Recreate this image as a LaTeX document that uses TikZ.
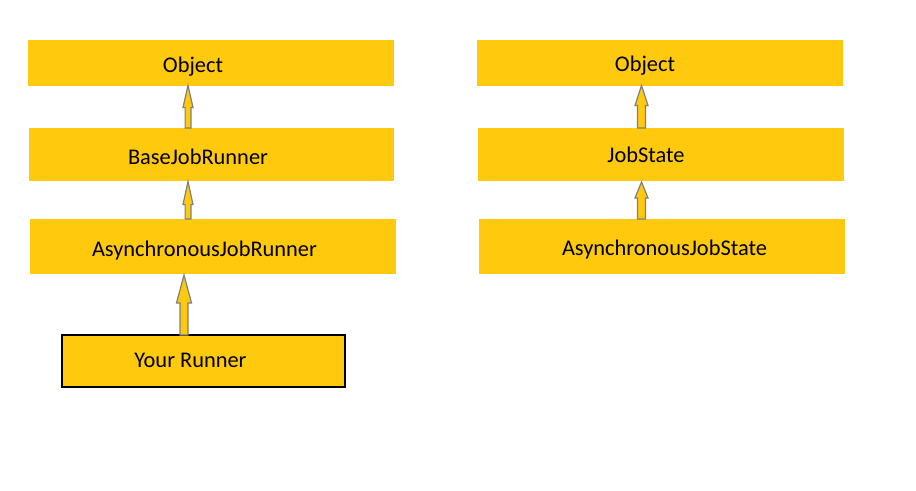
\documentclass[tikz,border=0pt]{standalone}
\usepackage{fontspec}
\setmainfont{Carlito}
\usetikzlibrary{calc}
\definecolor{boxyellow}{RGB}{255,201,14}
\definecolor{arrowgray}{RGB}{127,127,127}
% #1 base coord, #2 tip coord, #3 shaft half width, #4 head half width, #5 head length
\newcommand{\myblockarr}[5]{%
  \draw[blockarrow] ($(#1)+(-#3,0)$) -- ($(#2)+(-#3,#5)$) -- ($(#2)+(-#4,#5)$) -- (#2)
    -- ($(#2)+(#4,#5)$) -- ($(#2)+(#3,#5)$) -- ($(#1)+(#3,0)$) -- cycle;}
\begin{document}
\begin{tikzpicture}[x=0.75pt,y=-0.75pt,
  ybox/.style={fill=boxyellow, draw=none, inner sep=0pt, outer sep=0pt},
  lbl/.style={anchor=base, inner sep=0pt, font=\fontsize{16.8}{20}\selectfont},
  blockarrow/.style={fill=boxyellow, draw=arrowgray, line width=0.9pt, line join=miter}]
\useasboundingbox (0,0) rectangle (916,490);
% left column
\path[ybox] (28,40) rectangle (394,86) coordinate[pos=.5] (lobj);
\path[ybox] (29,128) rectangle (394,181) coordinate[pos=.5] (lbase);
\path[ybox] (30,219) rectangle (396,274) coordinate[pos=.5] (lasync);
\draw[fill=boxyellow, line width=1.6pt] (62,335) rectangle (345,387) coordinate[pos=.5] (your);
\node[lbl] (tlobj) at (193,72) {Object};
\node[lbl] (tlbase) at (198,164) {BaseJobRunner};
\node[lbl] (tlasync) at (204.5,256) {AsynchronousJobRunner};
\node[lbl] (tyour) at (190.5,367) {Your Runner};
% right column
\path[ybox] (477,40) rectangle (843,86) coordinate[pos=.5] (robj);
\path[ybox] (478,128) rectangle (844,181) coordinate[pos=.5] (rjob);
\path[ybox] (479,219) rectangle (845,274) coordinate[pos=.5] (rasync);
\node[lbl] (trobj) at (645,71) {Object};
\node[lbl] (trjob) at (646,162) {JobState};
\node[lbl] (trasync) at (664.5,255) {AsynchronousJobState};
% block arrows
\coordinate (a1b) at (188,128); \coordinate (a1t) at (188,85.5);
\coordinate (a2b) at (188,219); \coordinate (a2t) at (188,181.5);
\coordinate (a3b) at (184,335); \coordinate (a3t) at (184,275);
\coordinate (a4b) at (641.5,128); \coordinate (a4t) at (641.5,85.5);
\coordinate (a5b) at (641.5,219); \coordinate (a5t) at (641.5,182);
\myblockarr{a1b}{a1t}{2.9}{5}{22}
\myblockarr{a2b}{a2t}{2.9}{5}{23}
\myblockarr{a3b}{a3t}{4}{7.5}{28}
\myblockarr{a4b}{a4t}{4}{6.5}{20}
\myblockarr{a5b}{a5t}{4}{6.5}{16}
\end{tikzpicture}
\end{document}
